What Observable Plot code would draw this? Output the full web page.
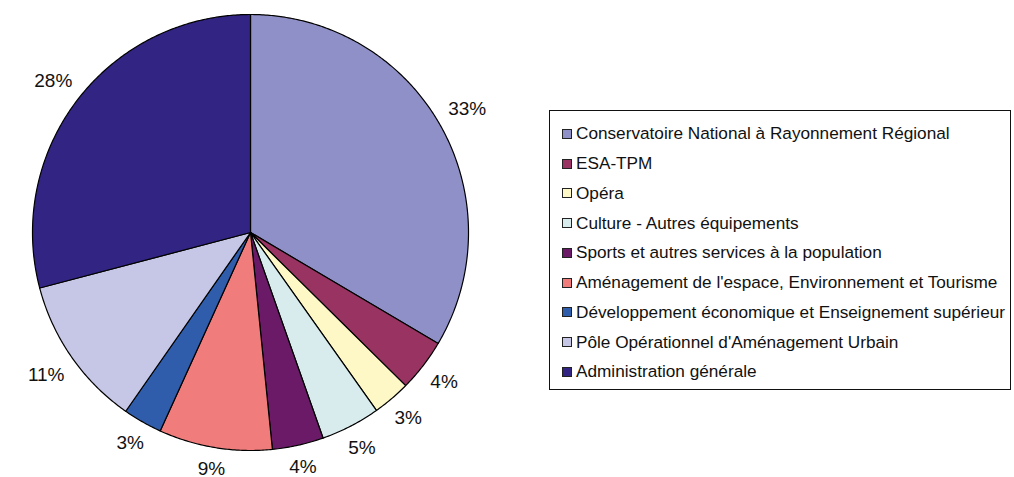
<!DOCTYPE html>
<html>
<head>
<meta charset="utf-8">
<script src="https://cdn.jsdelivr.net/npm/d3@7"></script>
<script src="https://cdn.jsdelivr.net/npm/@observablehq/plot@0.6"></script>
<style>
  html, body { margin: 0; padding: 0; background: #fff; }
  #wrap { position: relative; width: 1014px; height: 477px; font-family: Arial, "Liberation Sans", sans-serif; }
  #legend { position: absolute; left: 549px; top: 110px; width: 462px; height: 280px; border: 1.5px solid #111; box-sizing: border-box; padding-top: 8px; }
  .row { display: flex; align-items: center; height: 29.75px; font-size: 17.2px; color: #111; white-space: nowrap; }
  .sw { width: 8px; height: 8px; border: 1px solid #222; margin-left: 12px; margin-right: 4px; flex: none; }
</style>
</head>
<body>
<div id="wrap"></div>
<script>
const categories = [
  "Conservatoire National à Rayonnement Régional",
  "ESA-TPM",
  "Opéra",
  "Culture - Autres équipements",
  "Sports et autres services à la population",
  "Aménagement de l'espace, Environnement et Tourisme",
  "Développement économique et Enseignement supérieur",
  "Pôle Opérationnel d'Aménagement Urbain",
  "Administration générale"
];
const shares = [33.5, 3.9, 2.8, 4.4, 3.8, 8.4, 2.9, 11.2, 29.1];
const labels = ["33%", "4%", "3%", "5%", "4%", "9%", "3%", "11%", "28%"];
const colors = ["#9090c8", "#993462", "#fef7c6", "#d8ecee", "#6a1a66", "#f07d7c", "#2f5dab", "#c6c6e6", "#312482"];

const W = 1014, H = 477;
const cx = 250, cy = 232, R = 218;

const arcs = d3.pie().sort(null).value(d => d)(shares);
const polys = [];
arcs.forEach((a, i) => {
  polys.push({i, x: cx, y: cy});
  const n = Math.max(2, Math.ceil((a.endAngle - a.startAngle) / (Math.PI / 360)));
  for (let k = 0; k <= n; k++) {
    const t = a.startAngle + (a.endAngle - a.startAngle) * k / n;
    polys.push({i, x: cx + R * Math.sin(t), y: cy - R * Math.cos(t)});
  }
  polys.push({i, x: cx, y: cy});
});

const labelPts = arcs.map((a, i) => {
  const m = (a.startAngle + a.endAngle) / 2;
  const s = Math.sin(m), c = Math.cos(m);
  const w = labels[i].length * 11.5;
  const r = R + 13 + Math.abs(s) * w / 2 + Math.abs(c) * 7;
  return {label: labels[i], x: cx + r * s, y: cy - r * c};
});

const chart = Plot.plot({
  width: W, height: H,
  margin: 0,
  x: {domain: [0, W], range: [0, W], axis: null},
  y: {domain: [0, H], range: [0, H], axis: null},
  color: {type: "identity"},
  marks: [
    Plot.line(polys, {x: "x", y: "y", z: "i", fill: d => colors[d.i], stroke: "#000", strokeWidth: 1.2, strokeLinejoin: "round", curve: "linear"}),
    Plot.text(labelPts, {x: "x", y: "y", text: "label", fontSize: 19, fill: "#111", textAnchor: "middle", lineAnchor: "middle"})
  ]
});
chart.style.fontFamily = 'Arial, "Liberation Sans", sans-serif';
const wrap = document.getElementById("wrap");
wrap.appendChild(chart);

const legend = document.createElement("div");
legend.id = "legend";
categories.forEach((c, i) => {
  const row = document.createElement("div");
  row.className = "row";
  const sw = document.createElement("span");
  sw.className = "sw";
  sw.style.background = colors[i];
  const tx = document.createElement("span");
  tx.textContent = c;
  row.appendChild(sw); row.appendChild(tx);
  legend.appendChild(row);
});
wrap.appendChild(legend);
</script>
</body>
</html>
